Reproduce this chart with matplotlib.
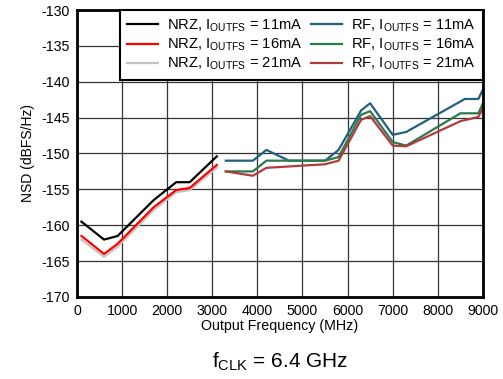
"""
NSD vs output frequency, NRZ and RF modes at fCLK = 6.4 GHz
"""

import matplotlib
matplotlib.use('Agg')
import matplotlib.pyplot as plt

plt.rcParams['font.family'] = ['Liberation Sans', 'DejaVu Sans']
plt.rcParams['mathtext.fontset'] = 'custom'
plt.rcParams['mathtext.rm'] = 'Liberation Sans'
plt.rcParams['mathtext.it'] = 'Liberation Sans'
plt.rcParams['axes.unicode_minus'] = False

# NRZ mode (MHz, dBFS/Hz)
nrz_freq = [100, 600, 900, 1700, 2200, 2500, 3100]
nrz_11ma = [-159.5, -162.0, -161.5, -156.5, -154.0, -154.0, -150.4]
nrz_16ma = [-161.5, -164.0, -162.6, -157.5, -155.1, -154.8, -151.6]
nrz_21ma = [-162.0, -164.4, -163.0, -157.9, -155.4, -155.1, -152.0]

# RF mode
rf_freq_11 = [3300, 3900, 4200, 4700, 5500, 5800, 6300, 6500, 7000, 7300, 8600, 8900, 9000]
rf_11ma = [-151.0, -151.0, -149.5, -151.0, -151.0, -149.5, -144.0, -143.0, -147.4, -147.0, -142.4, -142.4, -141.1]
rf_freq = [3300, 3900, 4200, 5500, 5800, 6300, 6500, 7000, 7300, 8500, 8900, 9000]
rf_16ma = [-152.5, -152.5, -151.0, -151.0, -150.5, -144.6, -144.1, -148.4, -148.9, -144.4, -144.4, -143.0]
rf_21ma = [-152.5, -153.1, -152.0, -151.5, -151.0, -145.3, -144.8, -148.9, -149.0, -145.5, -144.9, -143.7]

labels = ['NRZ, I$_{\\mathrm{OUTFS}}$ = 11mA', 'NRZ, I$_{\\mathrm{OUTFS}}$ = 16mA',
          'NRZ, I$_{\\mathrm{OUTFS}}$ = 21mA', 'RF, I$_{\\mathrm{OUTFS}}$ = 11mA',
          'RF, I$_{\\mathrm{OUTFS}}$ = 16mA', 'RF, I$_{\\mathrm{OUTFS}}$ = 21mA']

fig = plt.figure(figsize=(5.03, 3.79), dpi=100)
ax = fig.add_axes([0.153, 0.2164, 0.807, 0.7572])

lw = 1.6
ax.plot(nrz_freq, nrz_11ma, color='black', lw=lw, label=labels[0])
ax.plot(nrz_freq, nrz_16ma, color='#ff0000', lw=lw, label=labels[1])
ax.plot(nrz_freq, nrz_21ma, color='#c4c4c4', lw=lw, label=labels[2], zorder=1.9)
ax.plot(rf_freq_11, rf_11ma, color='#22607e', lw=lw, label=labels[3])
ax.plot(rf_freq, rf_16ma, color='#2b7a4b', lw=lw, label=labels[4])
ax.plot(rf_freq, rf_21ma, color='#b23b3b', lw=lw, label=labels[5])

ax.set_xlim(0, 9000)
ax.set_ylim(-170, -130)
ax.set_xticks(range(0, 9001, 1000))
ax.set_yticks(range(-170, -129, 5))
ax.grid(True, color='#333333', lw=0.9)
ax.set_axisbelow(True)
ax.tick_params(length=0, labelsize=10.2, pad=5)
for s in ax.spines.values():
    s.set_linewidth(2)

ax.set_xlabel('Output Frequency (MHz)', fontsize=10.3, labelpad=1)
ax.set_ylabel('NSD (dBFS/Hz)', fontsize=10, labelpad=5)

leg = ax.legend(loc='upper right', ncol=2, fontsize=10.6, frameon=True, fancybox=False,
                borderaxespad=0, handlelength=2.1, columnspacing=0.6, labelspacing=0.2,
                handletextpad=0.6, borderpad=0.5)
leg.get_frame().set_edgecolor('black')
leg.get_frame().set_linewidth(1.5)
leg.get_frame().set_alpha(1)

fig.text(0.557, 0.029, 'f$_{\\mathrm{CLK}}$ = 6.4 GHz', fontsize=15, ha='center', va='baseline')

fig.savefig('out.png', dpi=100)
